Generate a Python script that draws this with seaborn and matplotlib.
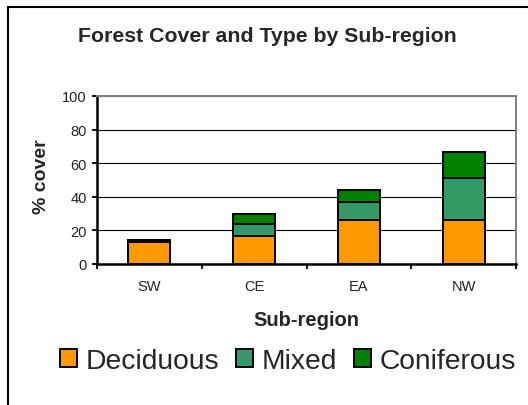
import matplotlib
matplotlib.use("Agg")
import matplotlib.pyplot as plt
from matplotlib.patches import Rectangle, Patch
import numpy as np
import pandas as pd
import seaborn as sns

# Forest cover (%) by sub-region, split by forest type
regions = ["SW", "CE", "EA", "NW"]
deciduous = [13.0, 16.6, 26.1, 26.1]
mixed = [0.5, 7.2, 10.7, 25.2]
coniferous = [0.7, 5.7, 7.0, 15.2]

types = ["Deciduous", "Mixed", "Coniferous"]
colors = {"Deciduous": "#FF9900", "Mixed": "#339966", "Coniferous": "#008000"}

df = pd.DataFrame({"region": regions, "Deciduous": deciduous,
                   "Mixed": mixed, "Coniferous": coniferous})
# cumulative heights for stacking (drawn from the top layer down)
df["cum_Deciduous"] = df["Deciduous"]
df["cum_Mixed"] = df["cum_Deciduous"] + df["Mixed"]
df["cum_Coniferous"] = df["cum_Mixed"] + df["Coniferous"]

sns.set_theme(style="white")
plt.rcParams["font.family"] = ["Liberation Sans", "DejaVu Sans"]

W, H = 528, 406
fig = plt.figure(figsize=(W / 100, H / 100), dpi=100)
fig.patch.set_facecolor("white")

left, right, top, bottom = 97, 516, 97, 265
ax = fig.add_axes([left / W, 1 - bottom / H, (right - left) / W, (bottom - top) / H])
ax.set_facecolor("white")

for t in reversed(types):
    sns.barplot(data=df, x="region", y=f"cum_{t}", order=regions, color=colors[t],
                width=0.4, edgecolor="black", linewidth=1.4, saturation=1,
                ax=ax, zorder=3)

ax.set_ylim(0, 100)
ax.set_xlim(-0.5, 3.5)
ax.set_yticks(np.arange(0, 101, 20))
ax.yaxis.grid(True, color="black", linewidth=0.8, zorder=0)
ax.set_axisbelow(True)

# tick marks between categories, labels centered under bars
ax.set_xticks([-0.5, 0.5, 1.5, 2.5, 3.5])
ax.set_xticklabels([])
ax.set_xticks(range(len(regions)), minor=True)
ax.set_xticklabels(regions, minor=True, fontsize=10.5)
ax.tick_params(axis="x", which="major", direction="out", length=3.5, width=1.3,
               color="black", bottom=True)
ax.tick_params(axis="x", which="minor", length=0, pad=11, labelcolor="#222222")
ax.tick_params(axis="y", direction="out", length=3.5, width=1.3, color="black",
               left=True, labelsize=10.5, pad=4, labelcolor="#222222")

for s in ["left", "bottom"]:
    ax.spines[s].set_color("black")
    ax.spines[s].set_linewidth(1.8)
for s in ["top", "right"]:
    ax.spines[s].set_color("#808080")
    ax.spines[s].set_linewidth(1.4)
    ax.spines[s].set_visible(True)

ax.set_ylabel("% cover", fontsize=14, fontweight="bold", va="center")
ax.yaxis.set_label_coords((42 - left) / (right - left), (bottom - 177) / (bottom - top))
ax.set_xlabel("Sub-region", fontsize=14.5, fontweight="bold", va="center")
ax.xaxis.set_label_coords(0.5, (bottom - 321) / (bottom - top))

fig.text(267 / W, 1 - 36 / H, "Forest Cover and Type by Sub-region",
         ha="center", va="center", fontsize=15.3, fontweight="bold")

handles = [Patch(facecolor=colors[t], edgecolor="black", linewidth=1.4) for t in types]
fig.legend(handles, types, loc="center", bbox_to_anchor=(288 / W, 1 - 362 / H),
           ncol=3, frameon=False, fontsize=20.3, handlelength=0.6, handleheight=0.6,
           handletextpad=0.3, columnspacing=0.6, borderpad=0)

# outer chart border
fig.patches.append(Rectangle((8 / W, -0.1), 1.2, 1 - 8 / H + 0.1,
                             transform=fig.transFigure, fill=False,
                             edgecolor="black", linewidth=1.5, clip_on=False))

fig.savefig("out.png", dpi=100, facecolor="white")
